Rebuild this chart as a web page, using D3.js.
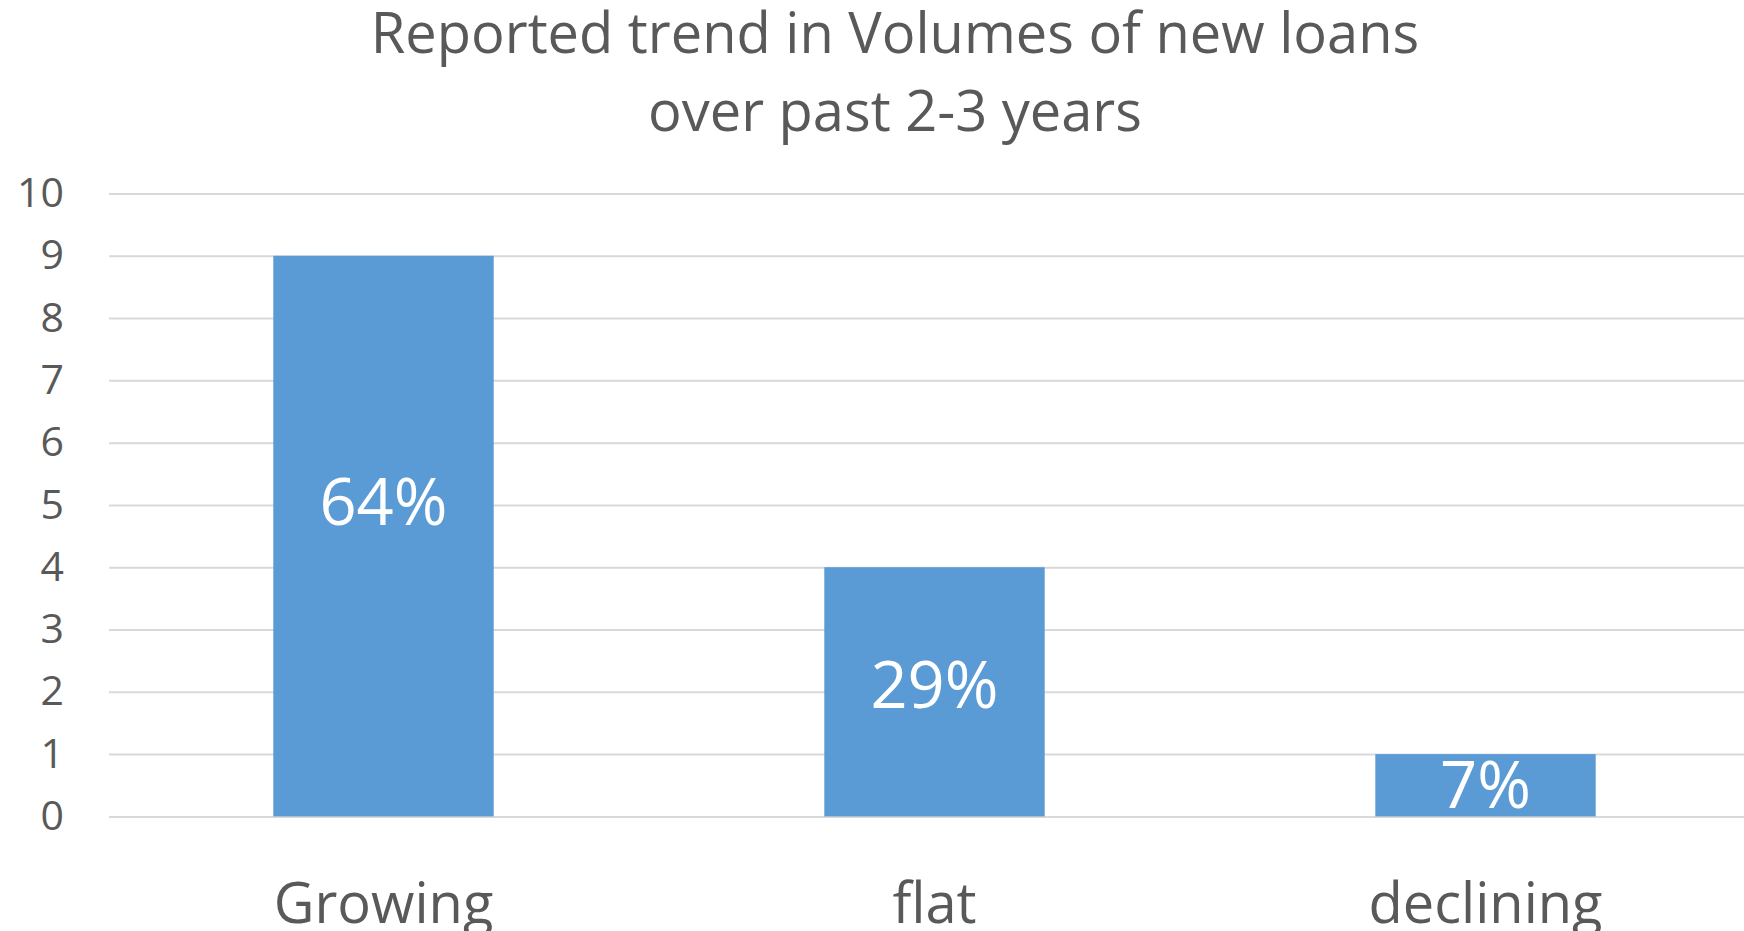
<!DOCTYPE html>
<html>
<head>
<meta charset="utf-8">
<script src="https://cdn.jsdelivr.net/npm/d3@7"></script>
<style>
  html, body { margin: 0; padding: 0; background: #fff; overflow: hidden; }
  svg { display: block; font-family: "Open Sans", sans-serif; }
</style>
</head>
<body>
<svg id="chart" width="1744" height="931"></svg>
<script>
// ---- data ----
const titleLines = ["Reported trend in Volumes of new loans", "over past 2-3 years"];
const categories = ["Growing", "flat", "declining"];
const counts = [9, 4, 1];
const shareLabels = ["64%", "29%", "7%"];
const labelAt = [5.05, 2.1, 0.5];
const yTicks = [0, 1, 2, 3, 4, 5, 6, 7, 8, 9, 10];

// ---- layout ----
const W = 1744, H = 931;
const svg = d3.select("#chart");
const textColor = "#595959";

const x = d3.scaleBand()
  .domain(categories)
  .range([108, 1761])
  .paddingInner(0.6)
  .paddingOuter(0.3);

const y = d3.scaleLinear().domain([0, 10]).range([816.4, 193.5]);

// gridlines
const yAxis = d3.axisLeft(y).tickValues(yTicks).tickSize(-(W - 109)).tickPadding(45).tickFormat(d3.format("d"));
const gAxis = svg.append("g").attr("transform", "translate(109,0)").call(yAxis);
gAxis.select(".domain").remove();
gAxis.selectAll(".tick line").attr("stroke", "#d9d9d9").attr("stroke-width", 2);
gAxis.selectAll(".tick text")
  .attr("fill", textColor)
  .attr("font-size", 41)
  .attr("font-family", "Open Sans, sans-serif");

// bars
svg.append("g").selectAll("rect")
  .data(categories)
  .join("rect")
  .attr("x", d => x(d))
  .attr("width", x.bandwidth())
  .attr("y", (d, i) => y(counts[i]))
  .attr("height", (d, i) => y(0) - y(counts[i]))
  .attr("fill", "#5b9bd5");

// data labels
svg.append("g").selectAll("text")
  .data(categories)
  .join("text")
  .attr("x", d => x(d) + x.bandwidth() / 2)
  .attr("y", (d, i) => y(labelAt[i]))
  .attr("dy", "0.35em")
  .attr("text-anchor", "middle")
  .attr("fill", "#ffffff")
  .attr("font-size", 65)
  .text((d, i) => shareLabels[i]);

// x axis labels
const xAxis = d3.axisBottom(x).tickSize(0).tickPadding(0);
const gx = svg.append("g").attr("transform", "translate(0,878)").call(xAxis);
gx.select(".domain").remove();
gx.selectAll(".tick text")
  .attr("fill", textColor)
  .attr("font-size", 56)
  .attr("font-family", "Open Sans, sans-serif")
  .attr("dy", "0.8em");

// title
svg.append("g").selectAll("text")
  .data(titleLines)
  .join("text")
  .attr("x", 895)
  .attr("y", (d, i) => 53 + i * 78)
  .attr("text-anchor", "middle")
  .attr("fill", textColor)
  .attr("font-size", 56)
  .text(d => d);
</script>
</body>
</html>
